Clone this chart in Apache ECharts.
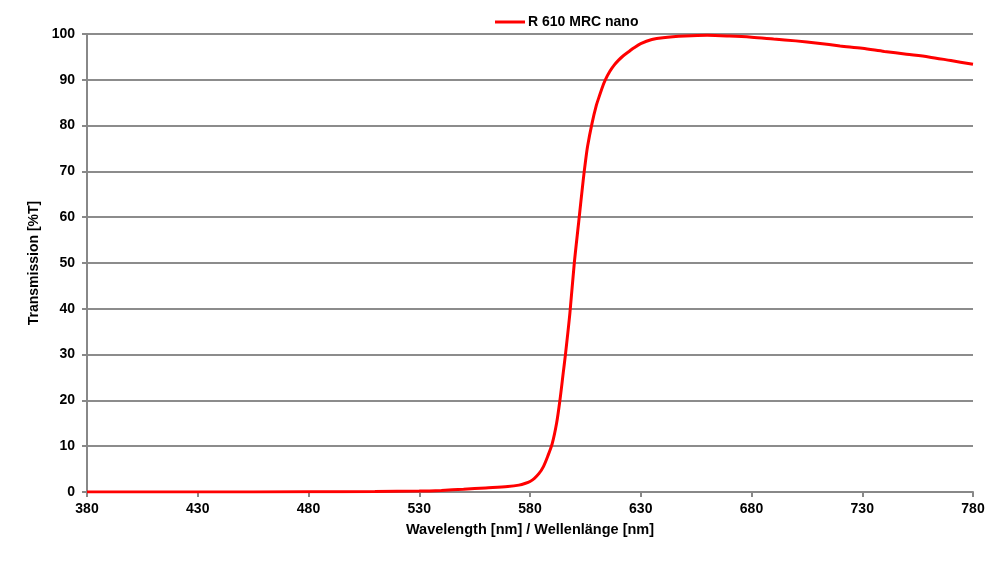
<!DOCTYPE html>
<html>
<head>
<meta charset="utf-8">
<script src="https://cdn.jsdelivr.net/npm/echarts@6/dist/echarts.min.js"></script>
<style>html,body{margin:0;padding:0;background:#fff}#c{width:1000px;height:576px}</style>
</head>
<body>
<div id="c"></div>
<script>
const seriesName = 'R 610 MRC nano';
const wavelengths = [380,400,430,480,510,530,540,550,560,570,575,578,580,582,584,586,588,590,592,593.5,595,596,598,600,602,604,605,606,608,610,611,613,614,616,618,620,622,625,627,630,635,640,650,660,670,680,690,700,710,720,730,740,750,760,770,780];
const transmission = [0,0,0,0.05,0.1,0.2,0.35,0.6,0.9,1.2,1.5,1.9,2.3,3.0,4.0,5.5,7.8,10.5,15,20,26,30,39,50,59,68,72,75.5,80.5,84.5,86,88.8,90,91.8,93.2,94.3,95.2,96.3,97,97.9,98.8,99.2,99.55,99.7,99.55,99.3,98.9,98.5,98.0,97.4,96.9,96.2,95.6,95.0,94.2,93.4];
const xTitle = 'Wavelength [nm] / Wellenlänge [nm]';
const yTitle = 'Transmission [%T]';

const data = wavelengths.map((w, i) => [w, transmission[i]]);
const font = 'Liberation Sans, Arial, sans-serif';
const chart = echarts.init(document.getElementById('c'));
chart.setOption({
  animation: false,
  textStyle: { fontFamily: font },
  legend: {
    left: 490, top: 10,
    itemWidth: 30, itemHeight: 3, itemGap: 5,
    icon: 'rect',
    textStyle: { fontFamily: font, fontWeight: 'bold', fontSize: 14, color: '#000', padding: [0,0,0,-2] },
    data: [{ name: seriesName, icon: 'rect' }]
  },
  grid: { left: 87, right: 27, top: 34, bottom: 84 },
  xAxis: {
    type: 'value', min: 380, max: 780, interval: 50,
    name: xTitle, nameLocation: 'middle', nameGap: 30,
    nameTextStyle: { fontFamily: font, fontWeight: 'bold', fontSize: 14.5, color: '#000' },
    axisLine: { show: true, lineStyle: { color: '#888', width: 2 } },
    axisTick: { show: true, length: 5, lineStyle: { color: '#888', width: 2 } },
    axisLabel: { fontFamily: font, fontWeight: 'bold', fontSize: 14, color: '#000', margin: 10 },
    splitLine: { show: false }
  },
  yAxis: {
    type: 'value', min: 0, max: 100, interval: 10,
    name: yTitle, nameLocation: 'middle', nameGap: 37, nameRotate: 90,
    nameTextStyle: { fontFamily: font, fontWeight: 'bold', fontSize: 14, color: '#000' },
    axisLine: { show: true, lineStyle: { color: '#888', width: 2 } },
    axisTick: { show: true, length: 5, lineStyle: { color: '#888', width: 2 } },
    axisLabel: { fontFamily: font, fontWeight: 'bold', fontSize: 14, color: '#000', margin: 12 },
    splitLine: { show: true, lineStyle: { color: '#8c8c8c', width: 2 } }
  },
  series: [{
    name: seriesName, type: 'line', data: data,
    smooth: 0.3, showSymbol: false, symbol: 'none',
    lineStyle: { color: '#ff0000', width: 3 },
    itemStyle: { color: '#ff0000' }
  }]
});
</script>
</body>
</html>
